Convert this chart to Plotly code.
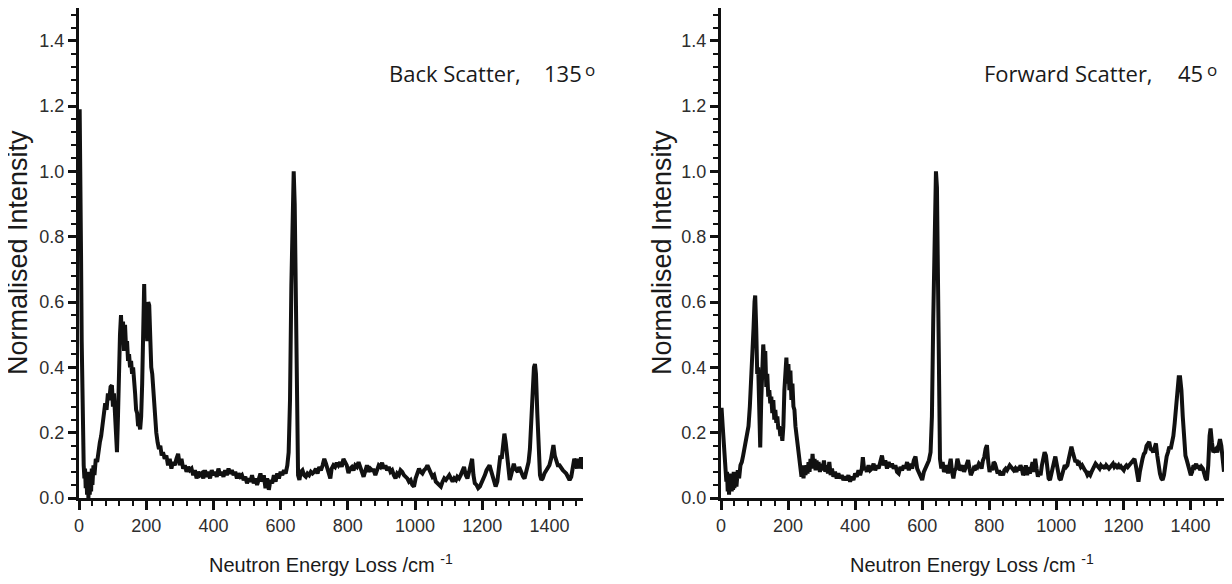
import plotly.graph_objects as go

# ---------------- data ----------------
back_x = [2, 4, 6, 8, 10, 12, 14, 16, 18, 20, 22, 24, 26, 28, 30, 32, 34, 36, 38, 40,
          43, 46, 50, 54, 58, 62, 66, 70, 74, 78, 82, 86, 90, 94, 98, 101, 104, 107, 110, 113,
          116, 119, 122, 125, 128, 131, 134, 137, 140, 143, 146, 149, 152, 155, 158, 161, 164, 167, 170, 173,
          176, 179, 182, 185, 188, 191, 194, 197, 200, 203, 206, 209, 212, 215, 218, 221, 224, 227, 230, 234,
          238, 242, 246, 250, 255, 260, 265, 270, 275, 280, 285, 290, 295, 300, 305, 310, 315, 320, 325, 330,
          335, 340, 345, 350, 355, 360, 365, 370, 375, 380, 385, 390, 395, 400, 405, 410, 415, 420, 425, 430,
          435, 440, 445, 450, 455, 460, 465, 470, 475, 480, 485, 490, 495, 500, 505, 510, 515, 520, 525, 530,
          535, 540, 545, 550, 555, 560, 565, 570, 575, 580, 585, 590, 595, 600, 605, 610, 615, 620, 624, 628,
          632, 636, 639, 642, 645, 648, 652, 656, 660, 665, 670, 675, 680, 685, 690, 695, 700, 705, 710, 715,
          720, 725, 730, 735, 740, 745, 748, 752, 757, 762, 767, 772, 777, 782, 787, 792, 797, 802, 807, 812,
          817, 822, 827, 832, 837, 842, 847, 852, 857, 862, 867, 872, 877, 882, 887, 892, 897, 902, 907, 912,
          917, 922, 927, 932, 937, 942, 947, 952, 957, 962, 967, 972, 977, 982, 987, 992, 997, 1002, 1007, 1012,
          1017, 1022, 1027, 1032, 1037, 1042, 1047, 1052, 1057, 1062, 1067, 1072, 1077, 1082, 1087, 1092, 1097, 1102, 1107, 1112,
          1117, 1122, 1126, 1131, 1136, 1141, 1146, 1151, 1156, 1161, 1166, 1170, 1174, 1178, 1183, 1188, 1193, 1198, 1203, 1208,
          1213, 1218, 1222, 1226, 1230, 1235, 1240, 1245, 1250, 1254, 1258, 1262, 1266, 1270, 1274, 1278, 1282, 1286, 1290, 1294,
          1298, 1302, 1306, 1310, 1314, 1318, 1322, 1326, 1330, 1334, 1338, 1342, 1346, 1350, 1354, 1357, 1360, 1364, 1368, 1372,
          1376, 1380, 1385, 1390, 1395, 1400, 1405, 1409, 1412, 1416, 1420, 1425, 1430, 1435, 1440, 1445, 1450, 1455, 1460, 1465,
          1470, 1474, 1478, 1482, 1486, 1490, 1494, 1498, 1500]
back_y = [1.19, 1.05, 0.75, 0.48, 0.30, 0.18, 0.10, 0.06, 0.09, 0.03, 0.08, 0.01, 0.07, 0.00, 0.06, 0.01, 0.08, 0.02, 0.09, 0.04,
          0.10, 0.07, 0.12, 0.11, 0.15, 0.17, 0.19, 0.22, 0.25, 0.29, 0.27, 0.32, 0.30, 0.34, 0.345, 0.28, 0.32, 0.24, 0.16, 0.14,
          0.25, 0.42, 0.50, 0.56, 0.47, 0.54, 0.45, 0.53, 0.46, 0.48, 0.42, 0.44, 0.40, 0.42, 0.38, 0.40, 0.33, 0.32, 0.27, 0.26,
          0.22, 0.23, 0.21, 0.25, 0.35, 0.55, 0.655, 0.50, 0.58, 0.48, 0.60, 0.59, 0.48, 0.40, 0.38, 0.32, 0.28, 0.24, 0.20, 0.17,
          0.15, 0.16, 0.13, 0.14, 0.12, 0.13, 0.10, 0.12, 0.09, 0.11, 0.10, 0.12, 0.135, 0.10, 0.12, 0.09, 0.10, 0.08, 0.095, 0.085,
          0.09, 0.07, 0.085, 0.06, 0.08, 0.07, 0.075, 0.06, 0.085, 0.065, 0.08, 0.06, 0.085, 0.07, 0.08, 0.065, 0.09, 0.07, 0.08, 0.065,
          0.085, 0.07, 0.09, 0.075, 0.085, 0.07, 0.08, 0.06, 0.075, 0.065, 0.07, 0.055, 0.065, 0.045, 0.06, 0.05, 0.07, 0.045, 0.06, 0.04,
          0.065, 0.075, 0.05, 0.07, 0.03, 0.06, 0.025, 0.055, 0.045, 0.07, 0.05, 0.075, 0.06, 0.08, 0.07, 0.085, 0.075, 0.10, 0.14, 0.30,
          0.65, 0.95, 1.00, 0.90, 0.55, 0.20, 0.07, 0.055, 0.08, 0.085, 0.07, 0.065, 0.075, 0.07, 0.08, 0.075, 0.08, 0.09, 0.075, 0.095,
          0.085, 0.10, 0.12, 0.105, 0.09, 0.07, 0.06, 0.09, 0.10, 0.095, 0.108, 0.10, 0.11, 0.095, 0.12, 0.11, 0.10, 0.076, 0.09, 0.095,
          0.085, 0.10, 0.095, 0.11, 0.09, 0.08, 0.065, 0.09, 0.10, 0.08, 0.09, 0.085, 0.085, 0.07, 0.09, 0.10, 0.095, 0.108, 0.09, 0.10,
          0.085, 0.095, 0.08, 0.085, 0.07, 0.06, 0.075, 0.07, 0.085, 0.08, 0.07, 0.065, 0.06, 0.05, 0.055, 0.04, 0.035, 0.06, 0.08, 0.09,
          0.08, 0.075, 0.085, 0.09, 0.10, 0.09, 0.08, 0.065, 0.07, 0.05, 0.045, 0.04, 0.035, 0.05, 0.06, 0.055, 0.065, 0.07, 0.06, 0.05,
          0.06, 0.055, 0.065, 0.06, 0.07, 0.08, 0.095, 0.07, 0.06, 0.08, 0.11, 0.12, 0.07, 0.045, 0.04, 0.03, 0.035, 0.045, 0.06, 0.07,
          0.085, 0.095, 0.10, 0.085, 0.07, 0.05, 0.035, 0.05, 0.10, 0.13, 0.12, 0.16, 0.197, 0.17, 0.12, 0.07, 0.055, 0.07, 0.09, 0.105,
          0.09, 0.085, 0.08, 0.095, 0.085, 0.07, 0.065, 0.06, 0.075, 0.09, 0.11, 0.15, 0.25, 0.36, 0.40, 0.41, 0.38, 0.26, 0.14, 0.07,
          0.055, 0.06, 0.075, 0.085, 0.095, 0.10, 0.12, 0.155, 0.162, 0.13, 0.11, 0.10, 0.10, 0.09, 0.085, 0.08, 0.075, 0.065, 0.055, 0.065,
          0.09, 0.12, 0.11, 0.09, 0.12, 0.09, 0.125, 0.09, 0.095]

fwd_x = [0, 2, 5, 8, 11, 14, 16, 18, 20, 22, 24, 26, 28, 30, 32, 34, 36, 38, 40, 43,
         46, 50, 54, 58, 62, 66, 70, 74, 78, 82, 86, 90, 94, 97, 100, 102, 105, 108, 111, 114,
         117, 120, 123, 126, 129, 132, 135, 138, 141, 144, 147, 150, 153, 156, 159, 162, 165, 168, 171, 174,
         177, 180, 183, 186, 189, 192, 195, 198, 201, 204, 207, 210, 213, 216, 219, 222, 225, 228, 231, 234,
         237, 240, 243, 246, 249, 252, 255, 258, 261, 264, 267, 270, 273, 276, 279, 282, 285, 288, 291, 295,
         299, 303, 307, 311, 315, 319, 323, 327, 331, 335, 340, 345, 350, 355, 360, 365, 370, 375, 380, 385,
         390, 395, 400, 405, 410, 415, 420, 423, 427, 431, 435, 440, 445, 450, 455, 460, 465, 470, 475, 480,
         485, 490, 495, 500, 505, 510, 515, 520, 525, 530, 535, 540, 545, 550, 555, 560, 565, 570, 575, 580,
         585, 590, 595, 600, 605, 610, 615, 620, 625, 629, 633, 637, 641, 644, 647, 650, 653, 657, 661, 665,
         669, 673, 677, 681, 685, 689, 693, 697, 701, 705, 709, 713, 717, 721, 725, 729, 733, 737, 741, 745,
         749, 753, 757, 761, 765, 769, 773, 777, 781, 785, 789, 793, 797, 801, 805, 809, 813, 817, 821, 825,
         829, 833, 837, 841, 845, 849, 853, 857, 861, 865, 869, 873, 877, 881, 885, 889, 893, 897, 901, 905,
         909, 913, 917, 921, 925, 929, 933, 937, 941, 945, 949, 953, 957, 961, 965, 969, 973, 977, 981, 985,
         989, 993, 997, 1001, 1005, 1009, 1013, 1017, 1021, 1025, 1029, 1033, 1037, 1041, 1045, 1049, 1053, 1057, 1061, 1065,
         1069, 1073, 1077, 1081, 1085, 1089, 1093, 1097, 1101, 1105, 1109, 1113, 1117, 1121, 1125, 1129, 1133, 1137, 1141, 1145,
         1149, 1153, 1157, 1161, 1165, 1169, 1173, 1177, 1181, 1185, 1189, 1193, 1197, 1201, 1205, 1209, 1213, 1217, 1221, 1225,
         1229, 1233, 1237, 1241, 1245, 1249, 1253, 1257, 1261, 1265, 1269, 1273, 1277, 1281, 1285, 1289, 1293, 1297, 1301, 1305,
         1309, 1313, 1317, 1321, 1325, 1329, 1333, 1337, 1341, 1345, 1349, 1353, 1357, 1361, 1365, 1369, 1373, 1377, 1381, 1385,
         1389, 1393, 1397, 1401, 1405, 1409, 1413, 1417, 1421, 1425, 1429, 1433, 1437, 1441, 1445, 1449, 1453, 1457, 1460, 1464,
         1468, 1472, 1476, 1480, 1484, 1488, 1492, 1496, 1500]
fwd_y = [0.27, 0.27, 0.22, 0.17, 0.14, 0.10, 0.05, 0.08, 0.02, 0.07, 0.01, 0.06, 0.02, 0.075, 0.02, 0.07, 0.025, 0.08, 0.03, 0.08,
         0.035, 0.085, 0.06, 0.10, 0.11, 0.13, 0.15, 0.17, 0.19, 0.22, 0.28, 0.35, 0.44, 0.52, 0.60, 0.62, 0.52, 0.38, 0.40, 0.22,
         0.155, 0.30, 0.45, 0.47, 0.42, 0.45, 0.34, 0.38, 0.31, 0.33, 0.29, 0.31, 0.26, 0.30, 0.24, 0.27, 0.23, 0.25, 0.21, 0.22,
         0.19, 0.20, 0.175, 0.22, 0.33, 0.40, 0.43, 0.35, 0.41, 0.33, 0.39, 0.30, 0.35, 0.28, 0.27, 0.22, 0.19, 0.16, 0.13, 0.10,
         0.08, 0.065, 0.10, 0.06, 0.09, 0.07, 0.10, 0.075, 0.11, 0.08, 0.12, 0.09, 0.135, 0.095, 0.12, 0.085, 0.115, 0.09, 0.11, 0.08,
         0.105, 0.085, 0.115, 0.08, 0.10, 0.075, 0.11, 0.07, 0.09, 0.065, 0.08, 0.06, 0.075, 0.06, 0.07, 0.055, 0.065, 0.055, 0.07, 0.05,
         0.065, 0.055, 0.075, 0.065, 0.085, 0.07, 0.09, 0.125, 0.085, 0.095, 0.08, 0.10, 0.085, 0.09, 0.105, 0.085, 0.10, 0.09, 0.11, 0.13,
         0.10, 0.115, 0.09, 0.11, 0.095, 0.105, 0.09, 0.10, 0.08, 0.075, 0.095, 0.085, 0.10, 0.09, 0.11, 0.085, 0.105, 0.09, 0.115, 0.127,
         0.09, 0.08, 0.065, 0.055, 0.08, 0.09, 0.10, 0.115, 0.14, 0.25, 0.55, 0.88, 1.00, 0.95, 0.60, 0.28, 0.12, 0.09, 0.11, 0.08,
         0.095, 0.10, 0.075, 0.11, 0.12, 0.08, 0.06, 0.085, 0.09, 0.12, 0.10, 0.085, 0.09, 0.10, 0.08, 0.09, 0.105, 0.116, 0.09, 0.07,
         0.08, 0.09, 0.085, 0.10, 0.095, 0.105, 0.10, 0.09, 0.115, 0.125, 0.15, 0.162, 0.11, 0.08, 0.095, 0.085, 0.11, 0.105, 0.09, 0.075,
         0.085, 0.07, 0.08, 0.07, 0.085, 0.09, 0.085, 0.095, 0.10, 0.095, 0.09, 0.085, 0.09, 0.08, 0.095, 0.085, 0.10, 0.09, 0.07, 0.08,
         0.10, 0.07, 0.095, 0.075, 0.09, 0.11, 0.08, 0.12, 0.09, 0.065, 0.08, 0.07, 0.10, 0.12, 0.14, 0.13, 0.08, 0.06, 0.055, 0.07,
         0.09, 0.11, 0.127, 0.10, 0.07, 0.06, 0.055, 0.07, 0.085, 0.10, 0.095, 0.10, 0.12, 0.14, 0.157, 0.14, 0.12, 0.11, 0.116, 0.10,
         0.105, 0.095, 0.10, 0.09, 0.085, 0.08, 0.07, 0.075, 0.07, 0.08, 0.09, 0.10, 0.105, 0.10, 0.095, 0.09, 0.10, 0.095, 0.096, 0.09,
         0.10, 0.095, 0.09, 0.095, 0.10, 0.105, 0.095, 0.10, 0.095, 0.10, 0.09, 0.096, 0.09, 0.085, 0.095, 0.10, 0.095, 0.10, 0.105, 0.11,
         0.115, 0.12, 0.10, 0.06, 0.05, 0.08, 0.11, 0.12, 0.135, 0.14, 0.16, 0.17, 0.172, 0.15, 0.148, 0.14, 0.155, 0.167, 0.13, 0.09,
         0.075, 0.06, 0.055, 0.07, 0.11, 0.127, 0.14, 0.157, 0.15, 0.17, 0.19, 0.23, 0.29, 0.34, 0.37, 0.37, 0.33, 0.25, 0.17, 0.13,
         0.116, 0.10, 0.085, 0.07, 0.08, 0.10, 0.095, 0.105, 0.09, 0.10, 0.085, 0.095, 0.09, 0.07, 0.06, 0.055, 0.10, 0.19, 0.213, 0.17,
         0.14, 0.145, 0.15, 0.14, 0.16, 0.18, 0.16, 0.12, 0.08]

x_title = "Neutron Energy Loss /cm <sup>-1</sup>"
y_title = "Normalised Intensity"
labels = ["Back Scatter,", "Forward Scatter,"]
angles = ["135", "45"]

# ---------------- figure ----------------
# the page body has an 8 px margin, so the figure is 8 px smaller and
# all positions below are screen pixels shifted by that offset
OFF = 8
W, H = 1232 - OFF, 584 - OFF
LINE = "#111111"

def PX(px):
    return (px - OFF) / W

def PY(py):
    return 1 - (py - OFF) / H

fig = go.Figure()
fig.add_trace(go.Scatter(x=back_x, y=back_y, mode="lines", xaxis="x", yaxis="y",
                         line=dict(color=LINE, width=4), showlegend=False, hoverinfo="skip"))
fig.add_trace(go.Scatter(x=fwd_x, y=fwd_y, mode="lines", xaxis="x2", yaxis="y2",
                         line=dict(color=LINE, width=4), showlegend=False, hoverinfo="skip"))

tickfont = dict(family="Arial, Liberation Sans, sans-serif", size=18, color="#2e2e2e")

def xax(domain, anchor):
    return dict(domain=domain, anchor=anchor, range=[0, 1500], tick0=0, dtick=200,
                ticks="outside", ticklen=9, tickwidth=2.5, tickcolor=LINE,
                showline=True, linewidth=3, linecolor=LINE, showgrid=False, zeroline=False,
                tickfont=tickfont, ticklabelstandoff=0, automargin=False, fixedrange=True,
                minor=dict(tick0=0, dtick=40, ticks="outside", ticklen=5, tickwidth=2,
                           tickcolor=LINE, showgrid=False))

def yax(domain, anchor):
    return dict(domain=domain, anchor=anchor, range=[0, 1.5], tick0=0, dtick=0.2, tickformat=".1f",
                ticks="outside", ticklen=8, tickwidth=2.5, tickcolor=LINE,
                showline=True, linewidth=3, linecolor=LINE, showgrid=False, zeroline=False,
                tickfont=tickfont, ticklabelstandoff=0, automargin=False, fixedrange=True,
                minor=dict(tick0=0, dtick=0.04, ticks="outside", ticklen=5, tickwidth=2,
                           tickcolor=LINE, showgrid=False))

ydom = [PY(498), PY(8)]
fig.update_layout(
    width=W, height=H, margin=dict(l=0, r=0, t=0, b=0),
    paper_bgcolor="white", plot_bgcolor="white", showlegend=False,
    xaxis=xax([PX(79), PX(583)], "y"),
    yaxis=yax(ydom, "x"),
    xaxis2=xax([PX(721), PX(1224)], "y2"),
    yaxis2=yax(ydom, "x2"),
)

ann = []
title_font = dict(family="Arial, Liberation Sans, sans-serif", size=20, color="#1a1a1a")
ytitle_font = dict(family="Arial, Liberation Sans, sans-serif", size=27, color="#1a1a1a")
label_font = dict(family="Open Sans, Noto Sans, sans-serif", size=22, color="#1a1a1a")
deg_font = dict(family="Open Sans, Noto Sans, sans-serif", size=17, color="#1a1a1a")
for cx, ytx in [(331, 18), (972, 662)]:
    ann.append(dict(text=x_title, x=PX(cx), y=PY(563), xref="paper", yref="paper",
                    xanchor="center", yanchor="middle", showarrow=False, font=title_font))
    ann.append(dict(text=y_title, x=PX(ytx), y=PY(253), xref="paper", yref="paper",
                    xanchor="center", yanchor="middle", textangle=-90, showarrow=False, font=ytitle_font))
for lab, ang, xr, xa, xo in [(labels[0], angles[0], 523, 542, 583), (labels[1], angles[1], 1155, 1176, 1205)]:
    ann.append(dict(text=lab, x=PX(xr), y=PY(73), xref="paper", yref="paper",
                    xanchor="right", yanchor="middle", showarrow=False, font=label_font))
    ann.append(dict(text=ang, x=PX(xa), y=PY(73), xref="paper", yref="paper",
                    xanchor="left", yanchor="middle", showarrow=False, font=label_font))
    ann.append(dict(text="o", x=PX(xo), y=PY(69), xref="paper", yref="paper",
                    xanchor="left", yanchor="middle", showarrow=False, font=deg_font))
fig.update_layout(annotations=ann)

fig.write_html("out.html")
